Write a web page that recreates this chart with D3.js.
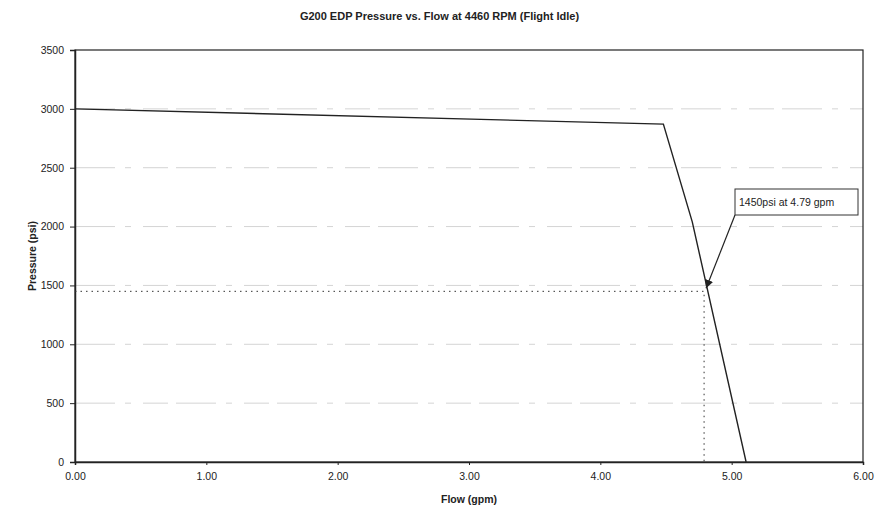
<!DOCTYPE html>
<html>
<head>
<meta charset="utf-8">
<script src="https://cdn.jsdelivr.net/npm/d3@7"></script>
<style>
  body { margin: 0; background: #fff; }
  text { font-family: "Liberation Sans", Arial, sans-serif; fill: #222; }
</style>
</head>
<body>
<svg id="chart" width="879" height="512"></svg>
<script>
// curve points
var flow = [0, 4.48, 4.7, 5.11];
var pressure = [3000, 2870, 2040, 0];
var xTicks = [0, 1, 2, 3, 4, 5, 6];
var yTicks = [0, 500, 1000, 1500, 2000, 2500, 3000, 3500];
var markFlow = 4.79, markPressure = 1450;
var noteText = "1450psi at 4.79 gpm";

var svg = d3.select("#chart"),
    margin = {top: 50, left: 75, bottom: 50, right: 16},
    width = +svg.attr("width"),
    height = +svg.attr("height");

var x = d3.scaleLinear().domain([0, 6]).range([margin.left, width - margin.right]);
var y = d3.scaleLinear().domain([0, 3500]).range([height - margin.bottom, margin.top]);

// faint scanned gridlines
svg.append("g").selectAll("line")
  .data(yTicks.filter(d => d > 0 && d < 3500))
  .enter().append("line")
  .attr("x1", x(0)).attr("x2", x(6))
  .attr("y1", d => y(d)).attr("y2", d => y(d))
  .attr("stroke", "#d4d4d4")
  .attr("stroke-width", 1)
  .attr("stroke-dasharray", "40,10,6,12,25,8");

// frame
svg.append("rect")
  .attr("x", x(0)).attr("y", y(3500))
  .attr("width", x(6) - x(0)).attr("height", y(0) - y(3500))
  .attr("fill", "none").attr("stroke", "#222").attr("stroke-width", 1.2);

var xAxis = svg.append("g")
  .attr("transform", `translate(0,${y(0)})`)
  .call(d3.axisBottom(x).tickValues(xTicks).tickFormat(d3.format(".2f")).tickSize(3).tickPadding(8));
var yAxis = svg.append("g")
  .attr("transform", `translate(${x(0)},0)`)
  .call(d3.axisLeft(y).tickValues(yTicks).tickFormat(d3.format("d")).tickSize(5).tickPadding(6));
[xAxis, yAxis].forEach(g => {
  g.select(".domain").attr("stroke", "#222").attr("stroke-width", 1.5);
  g.selectAll(".tick line").attr("stroke", "#222");
  g.selectAll(".tick text").style("font-family", "'Liberation Sans', Arial, sans-serif")
    .style("font-size", "10.5px").attr("fill", "#222");
});

// dotted guides to the marked point
svg.append("path")
  .attr("d", `M${x(0)},${y(markPressure)}H${x(markFlow)}V${y(0)}`)
  .attr("fill", "none").attr("stroke", "#333")
  .attr("stroke-width", 1).attr("stroke-dasharray", "1.5,4");

// curve
var line = d3.line().x(d => x(d[0])).y(d => y(d[1]));
svg.append("path")
  .datum(flow.map((f, i) => [f, pressure[i]]))
  .attr("d", line)
  .attr("fill", "none").attr("stroke", "#222").attr("stroke-width", 1.4);

// annotation
svg.append("defs").append("marker")
  .attr("id", "arrow").attr("viewBox", "0 0 10 10")
  .attr("refX", 10).attr("refY", 5)
  .attr("markerWidth", 7).attr("markerHeight", 7)
  .attr("orient", "auto")
  .append("path").attr("d", "M0,0L10,5L0,10z").attr("fill", "#222");

var bx = 735, by = 189, bw = 123, bh = 26;
svg.append("line")
  .attr("x1", bx).attr("y1", by + bh)
  .attr("x2", x(markFlow) + 2).attr("y2", y(markPressure) - 3)
  .attr("stroke", "#222").attr("stroke-width", 1.2)
  .attr("marker-end", "url(#arrow)");
svg.append("rect")
  .attr("x", bx).attr("y", by).attr("width", bw).attr("height", bh)
  .attr("fill", "#fff").attr("stroke", "#333").attr("stroke-width", 1);
svg.append("text")
  .attr("x", bx + 4).attr("y", by + bh / 2 + 4)
  .style("font-size", "10.5px")
  .text(noteText);

// titles
svg.append("text")
  .attr("x", width / 2).attr("y", 20)
  .attr("text-anchor", "middle")
  .style("font-size", "11px").style("font-weight", "bold")
  .text("G200 EDP Pressure vs. Flow at 4460 RPM (Flight Idle)");
svg.append("text")
  .attr("x", (x(0) + x(6)) / 2).attr("y", 503)
  .attr("text-anchor", "middle")
  .style("font-size", "10.5px").style("font-weight", "bold")
  .text("Flow (gpm)");
svg.append("text")
  .attr("transform", `translate(36,${(y(0) + y(3500)) / 2}) rotate(-90)`)
  .attr("text-anchor", "middle")
  .style("font-size", "10.5px").style("font-weight", "bold")
  .text("Pressure (psi)");
</script>
</body>
</html>
